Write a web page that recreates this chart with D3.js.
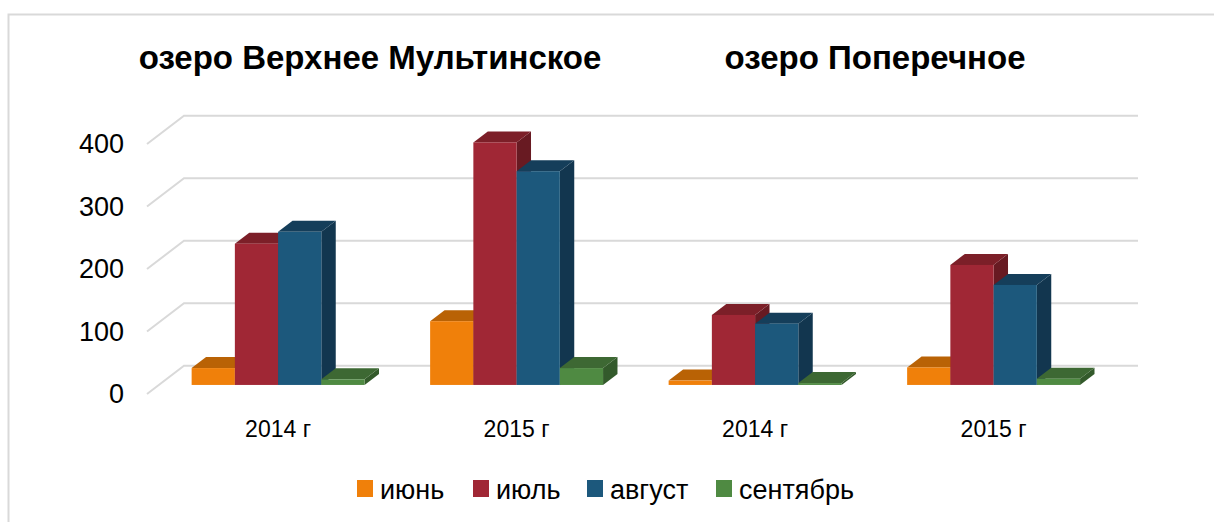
<!DOCTYPE html>
<html>
<head>
<meta charset="utf-8">
<script src="https://cdn.jsdelivr.net/npm/d3@7"></script>
<style>
  body { margin: 0; background: #fff; }
  svg { display: block; }
  text { font-family: "Liberation Sans", Arial, sans-serif; }
</style>
</head>
<body>
<div id="chart"></div>
<script>
var w = 1214;
var h = 522;

// data
var lakes = ["озеро Верхнее Мультинское", "озеро Поперечное"];
var categories = ["2014 г", "2015 г", "2014 г", "2015 г"];
var months = ["июнь", "июль", "август", "сентябрь"];
var june = [27, 102, 7, 28];
var july = [226, 388, 112, 192];
var august = [245, 342, 98, 160];
var september = [9, 27, 3, 10];
var yTicks = [0, 100, 200, 300, 400];

var series = [june, july, august, september];

// front, top, side shades per month
var colors = [
  ["#f0800a", "#b96205", "#a65604"],
  ["#a02735", "#7c1f28", "#681a22"],
  ["#1c587c", "#153e5a", "#12364f"],
  ["#4f8a42", "#3d6833", "#335a2b"]
];

// 3d projection: front plane + depth vector
var DX = 37, DY = -28.3;
var dFront = 0.32, dBack = 0.71;

var x0 = d3.scaleBand()
           .domain(d3.range(categories.length))
           .range([147, 1101])
           .paddingInner(0.275)
           .paddingOuter(0.1375);

var x1 = d3.scaleBand()
           .domain(d3.range(months.length))
           .range([0, x0.bandwidth()]);

var y = d3.scaleLinear()
          .domain([0, 400])
          .range([394, 144]);

function pt(x, v, d) {
  return [x + d * DX, y(v) + d * DY];
}

var svg = d3.select("#chart")
            .append("svg")
            .attr("width", w)
            .attr("height", h);

// outer frame
svg.append("rect")
   .attr("x", 8.5)
   .attr("y", 14.5)
   .attr("width", 1220)
   .attr("height", 520)
   .attr("fill", "none")
   .attr("stroke", "#d9d9d9")
   .attr("stroke-width", 2);

// titles
svg.selectAll("text.title")
   .data(lakes)
   .enter()
   .append("text")
   .attr("class", "title")
   .text(function(d) { return d; })
   .attr("x", function(d, i) { return i === 0 ? 370 : 875; })
   .attr("y", 69)
   .attr("text-anchor", "middle")
   .attr("font-size", "33px")
   .attr("font-weight", "bold")
   .attr("fill", "#000");

// back wall gridlines with the side diagonal
var x0L = x0.range()[0], x0R = x0.range()[1];
svg.selectAll("path.grid")
   .data(yTicks)
   .enter()
   .append("path")
   .attr("class", "grid")
   .attr("d", function(v) {
     var a = pt(x0L, v, 0), b = pt(x0L, v, 1), c = pt(x0R, v, 1);
     return "M" + a + "L" + b + "L" + c;
   })
   .attr("fill", "none")
   .attr("stroke", "#d9d9d9")
   .attr("stroke-width", 2);

// y tick labels
svg.selectAll("text.ytick")
   .data(yTicks)
   .enter()
   .append("text")
   .attr("class", "ytick")
   .text(function(d) { return d; })
   .attr("x", 124)
   .attr("y", function(d) { return y(d); })
   .attr("dy", "0.35em")
   .attr("text-anchor", "end")
   .attr("font-size", "27px")
   .attr("fill", "#000");

// bars
var bars = [];
categories.forEach(function(c, i) {
  months.forEach(function(m, j) {
    bars.push({ cat: i, s: j, value: series[j][i] });
  });
});

function poly(points) {
  return "M" + points.join("L") + "Z";
}

var g = svg.selectAll("g.bar")
           .data(bars)
           .enter()
           .append("g")
           .attr("class", "bar");

g.each(function(d) {
  var el = d3.select(this);
  var xl = x0(d.cat) + x1(d.s);
  var xr = xl + x1.bandwidth();
  var c = colors[d.s];
  // side
  el.append("path")
    .attr("d", poly([pt(xr, 0, dFront), pt(xr, d.value, dFront), pt(xr, d.value, dBack), pt(xr, 0, dBack)]))
    .attr("fill", c[2]);
  // top
  el.append("path")
    .attr("d", poly([pt(xl, d.value, dFront), pt(xr, d.value, dFront), pt(xr, d.value, dBack), pt(xl, d.value, dBack)]))
    .attr("fill", c[1]);
  // front
  var p0 = pt(xl, d.value, dFront), p1 = pt(xr, 0, dFront);
  el.append("rect")
    .attr("x", p0[0])
    .attr("y", p0[1])
    .attr("width", p1[0] - p0[0])
    .attr("height", p1[1] - p0[1])
    .attr("fill", c[0]);
});

// category labels
svg.selectAll("text.cat")
   .data(categories)
   .enter()
   .append("text")
   .attr("class", "cat")
   .text(function(d) { return d; })
   .attr("x", function(d, i) { return x0(i) + x0.bandwidth() / 2 + dFront * DX; })
   .attr("y", 437)
   .attr("text-anchor", "middle")
   .attr("font-size", "23px")
   .attr("fill", "#000");

// legend
var legendX = [357, 473, 587, 716];
var lg = svg.selectAll("g.legend")
            .data(months)
            .enter()
            .append("g")
            .attr("class", "legend")
            .attr("transform", function(d, i) { return "translate(" + legendX[i] + ",480)"; });

lg.append("rect")
  .attr("width", 16)
  .attr("height", 17)
  .attr("fill", function(d, i) { return colors[i][0]; });

lg.append("text")
  .text(function(d) { return d; })
  .attr("x", 23)
  .attr("y", 19)
  .attr("font-size", "27px")
  .attr("fill", "#000");
</script>
</body>
</html>
